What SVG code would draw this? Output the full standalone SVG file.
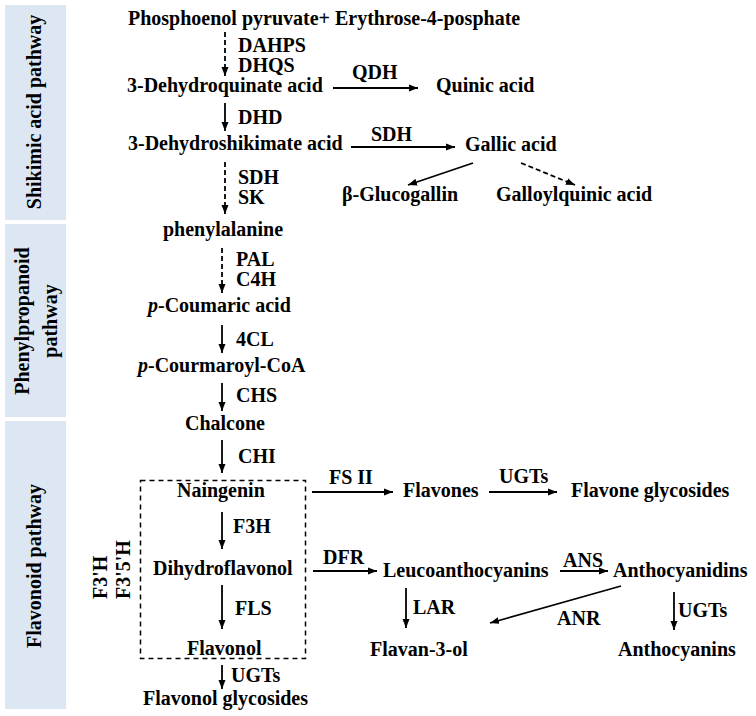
<svg xmlns="http://www.w3.org/2000/svg" width="756" height="716" viewBox="0 0 756 716">
<defs>
<style>
text{font-family:"Liberation Serif","Times New Roman",serif;font-weight:bold;font-size:20px;fill:#000}
.band{fill:#dde7f4}
.ln{stroke:#000;stroke-width:1.8;fill:none}
.ds{stroke-dasharray:5,3}
.box{stroke:#000;stroke-width:1.5;fill:none;stroke-dasharray:5,4}
</style>
<marker id="ah" markerUnits="userSpaceOnUse" markerWidth="10" markerHeight="8" refX="9" refY="4" orient="auto">
<path d="M0,0.5 L9,4 L0,7.5 Z" fill="#000"/>
</marker>
</defs>
<rect width="756" height="716" fill="#fff"/>
<g id="bands">
<rect class="band" x="5" y="5" width="61" height="215"/>
<rect class="band" x="5" y="224" width="61" height="193"/>
<rect class="band" x="5" y="421" width="61" height="288"/>
<text transform="translate(41,112) rotate(-90)" text-anchor="middle">Shikimic acid pathway</text>
<text transform="translate(29,321) rotate(-90)" text-anchor="middle">Phenylpropanoid</text>
<text transform="translate(57,321) rotate(-90)" text-anchor="middle">pathway</text>
<text transform="translate(41,566) rotate(-90)" text-anchor="middle">Flavonoid pathway</text>
</g>
<g id="connectors">
<line class="ln ds" x1="225" y1="32" x2="225" y2="76" marker-end="url(#ah)"/>
<line class="ln" x1="333" y1="88" x2="418" y2="88" marker-end="url(#ah)"/>
<line class="ln" x1="225" y1="103" x2="225" y2="131" marker-end="url(#ah)"/>
<line class="ln" x1="351" y1="147" x2="455" y2="147" marker-end="url(#ah)"/>
<line class="ln" x1="473" y1="163" x2="408" y2="185" marker-end="url(#ah)"/>
<line class="ln ds" x1="521" y1="163" x2="575" y2="185" marker-end="url(#ah)"/>
<line class="ln ds" x1="225" y1="162" x2="225" y2="214" marker-end="url(#ah)"/>
<line class="ln ds" x1="222" y1="248" x2="222" y2="293" marker-end="url(#ah)"/>
<line class="ln" x1="222" y1="325" x2="222" y2="353" marker-end="url(#ah)"/>
<line class="ln" x1="222" y1="383" x2="222" y2="411" marker-end="url(#ah)"/>
<line class="ln" x1="222" y1="440" x2="222" y2="473" marker-end="url(#ah)"/>
<line class="ln" x1="222" y1="512" x2="222" y2="549" marker-end="url(#ah)"/>
<line class="ln" x1="222" y1="585" x2="222" y2="629" marker-end="url(#ah)"/>
<line class="ln" x1="222" y1="665" x2="222" y2="689" marker-end="url(#ah)"/>
<line class="ln" x1="312" y1="492" x2="393" y2="492" marker-end="url(#ah)"/>
<line class="ln" x1="489" y1="492" x2="557" y2="492" marker-end="url(#ah)"/>
<line class="ln" x1="313" y1="571" x2="377" y2="571" marker-end="url(#ah)"/>
<line class="ln" x1="560" y1="571" x2="608" y2="571" marker-end="url(#ah)"/>
<line class="ln" x1="406" y1="588" x2="406" y2="628" marker-end="url(#ah)"/>
<line class="ln" x1="621" y1="586" x2="490" y2="623" marker-end="url(#ah)"/>
<line class="ln" x1="674" y1="592" x2="674" y2="630" marker-end="url(#ah)"/>
<rect class="box" x="140.5" y="480.5" width="165" height="178"/>
</g>
<g id="n-pep"><text x="128" y="25">Phosphoenol pyruvate+ Erythrose-4-posphate</text></g>
<g id="l-dahps"><text x="238" y="52">DAHPS</text><text x="238" y="72">DHQS</text></g>
<g id="n-dhq"><text x="127" y="92">3-Dehydroquinate acid</text></g>
<g id="l-qdh"><text x="352" y="79">QDH</text></g>
<g id="n-quinic"><text x="436" y="92">Quinic acid</text></g>
<g id="l-dhd"><text x="238" y="124">DHD</text></g>
<g id="n-dhs"><text x="128" y="150">3-Dehydroshikimate acid</text></g>
<g id="l-sdh1"><text x="371" y="141">SDH</text></g>
<g id="n-gallic"><text x="465" y="151">Gallic acid</text></g>
<g id="n-glucogallin"><text x="342" y="201">β-Glucogallin</text></g>
<g id="n-galloylquinic"><text x="496" y="201">Galloylquinic acid</text></g>
<g id="l-sdhsk"><text x="238" y="184">SDH</text><text x="238" y="204">SK</text></g>
<g id="n-phe"><text x="163" y="236">phenylalanine</text></g>
<g id="l-pal"><text x="236" y="266">PAL</text><text x="236" y="286">C4H</text></g>
<g id="n-pcoum"><text x="148" y="312"><tspan font-style="italic">p</tspan>-Coumaric acid</text></g>
<g id="l-4cl"><text x="236" y="346">4CL</text></g>
<g id="n-pcoa"><text x="138" y="372"><tspan font-style="italic">p</tspan>-Courmaroyl-CoA</text></g>
<g id="l-chs"><text x="236" y="402">CHS</text></g>
<g id="n-chalcone"><text x="185" y="430">Chalcone</text></g>
<g id="l-chi"><text x="238" y="463">CHI</text></g>
<g id="n-nar"><text x="177" y="497">Naingenin</text></g>
<g id="l-f3h"><text x="233" y="533">F3H</text></g>
<g id="n-dhf"><text x="153" y="575">Dihydroflavonol</text></g>
<g id="l-fls"><text x="235" y="615">FLS</text></g>
<g id="n-flavonol"><text x="187" y="655">Flavonol</text></g>
<g id="l-ugt1"><text x="231" y="682">UGTs</text></g>
<g id="n-flgly"><text x="143" y="705">Flavonol glycosides</text></g>
<g id="l-f3h2"><text transform="translate(107,599) rotate(-90)">F3'H</text><text transform="translate(130,599) rotate(-90)">F3'5'H</text></g>
<g id="l-fs2"><text x="329" y="484">FS II</text></g>
<g id="n-flavones"><text x="403" y="497">Flavones</text></g>
<g id="l-ugt2"><text x="499" y="483">UGTs</text></g>
<g id="n-flvgly"><text x="571" y="497">Flavone glycosides</text></g>
<g id="l-dfr"><text x="323" y="564">DFR</text></g>
<g id="n-leuco"><text x="383" y="577">Leucoanthocyanins</text></g>
<g id="l-ans"><text x="563" y="567">ANS</text></g>
<g id="n-anthocyanidins"><text x="613" y="577">Anthocyanidins</text></g>
<g id="l-lar"><text x="413" y="614">LAR</text></g>
<g id="l-anr"><text x="557" y="625">ANR</text></g>
<g id="l-ugt3"><text x="678" y="617">UGTs</text></g>
<g id="n-flavan"><text x="370" y="656">Flavan-3-ol</text></g>
<g id="n-anthocyanins"><text x="618" y="656">Anthocyanins</text></g>
</svg>
